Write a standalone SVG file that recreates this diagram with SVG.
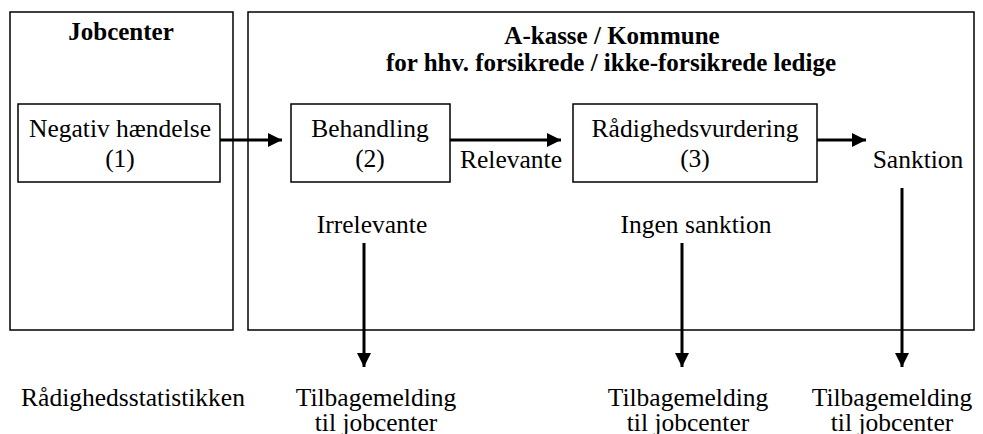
<svg xmlns="http://www.w3.org/2000/svg" width="983" height="434" viewBox="0 0 983 434">
  <style>
    .frame { fill: none; stroke: #000; stroke-width: 1.5; }
    .box { fill: #fff; stroke: #000; stroke-width: 1.5; }
    .t { font-family: "Liberation Serif", "Times New Roman", serif; font-size: 25.5px; fill: #000; text-anchor: middle; }
    .h { font-family: "Liberation Serif", "Times New Roman", serif; font-size: 25px; font-weight: bold; fill: #000; text-anchor: middle; }
    .arrow { stroke: #000; stroke-width: 3; fill: none; marker-end: url(#head); }
  </style>
  <defs>
    <marker id="head" viewBox="0 0 10 10" refX="10" refY="5" markerUnits="userSpaceOnUse" markerWidth="14" markerHeight="14" orient="auto">
      <path d="M0,0 L10,5 L0,10 Z" fill="#000"/>
    </marker>
  </defs>

  <rect width="983" height="434" fill="#fff"/>

  <!-- swim lanes -->
  <g id="lane-jobcenter">
    <rect class="frame" x="10" y="12" width="223" height="318"/>
    <text class="h" x="121" y="40">Jobcenter</text>
  </g>
  <g id="lane-akasse">
    <rect class="frame" x="248" y="12" width="726" height="318"/>
    <text class="h" x="612" y="44">A-kasse / Kommune</text>
    <text class="h" x="611" y="71">for hhv. forsikrede / ikke-forsikrede ledige</text>
  </g>

  <!-- process steps -->
  <g id="node-negativ">
    <rect class="box" x="18" y="104" width="202" height="78"/>
    <text class="t" x="120" y="137">Negativ hændelse</text>
    <text class="t" x="120" y="167">(1)</text>
  </g>
  <g id="node-behandling">
    <rect class="box" x="291" y="104" width="159" height="78"/>
    <text class="t" x="370" y="137">Behandling</text>
    <text class="t" x="370" y="167">(2)</text>
  </g>
  <g id="node-vurdering">
    <rect class="box" x="573" y="104" width="244" height="78"/>
    <text class="t" x="695" y="137">Rådighedsvurdering</text>
    <text class="t" x="695" y="167">(3)</text>
  </g>

  <!-- outcomes -->
  <g id="label-relevante"><text class="t" x="511" y="168">Relevante</text></g>
  <g id="label-sanktion"><text class="t" x="918" y="168">Sanktion</text></g>
  <g id="label-irrelevante"><text class="t" x="372" y="233">Irrelevante</text></g>
  <g id="label-ingen"><text class="t" x="696" y="233">Ingen sanktion</text></g>

  <g id="out-statistik"><text class="t" x="133" y="406">Rådighedsstatistikken</text></g>
  <g id="out-tilbage-1">
    <text class="t" x="376" y="406">Tilbagemelding</text>
    <text class="t" x="376" y="431">til jobcenter</text>
  </g>
  <g id="out-tilbage-2">
    <text class="t" x="688" y="406">Tilbagemelding</text>
    <text class="t" x="688" y="431">til jobcenter</text>
  </g>
  <g id="out-tilbage-3">
    <text class="t" x="892" y="406">Tilbagemelding</text>
    <text class="t" x="892" y="431">til jobcenter</text>
  </g>

  <!-- connectors -->
  <g id="connectors">
    <line class="arrow" x1="220" y1="140" x2="282" y2="140"/>
    <line class="arrow" x1="450" y1="140" x2="561" y2="140"/>
    <line class="arrow" x1="817" y1="140" x2="866" y2="140"/>
    <line class="arrow" x1="364" y1="243" x2="364" y2="367"/>
    <line class="arrow" x1="682" y1="243" x2="682" y2="367"/>
    <line class="arrow" x1="902" y1="188" x2="902" y2="367"/>
  </g>
</svg>
